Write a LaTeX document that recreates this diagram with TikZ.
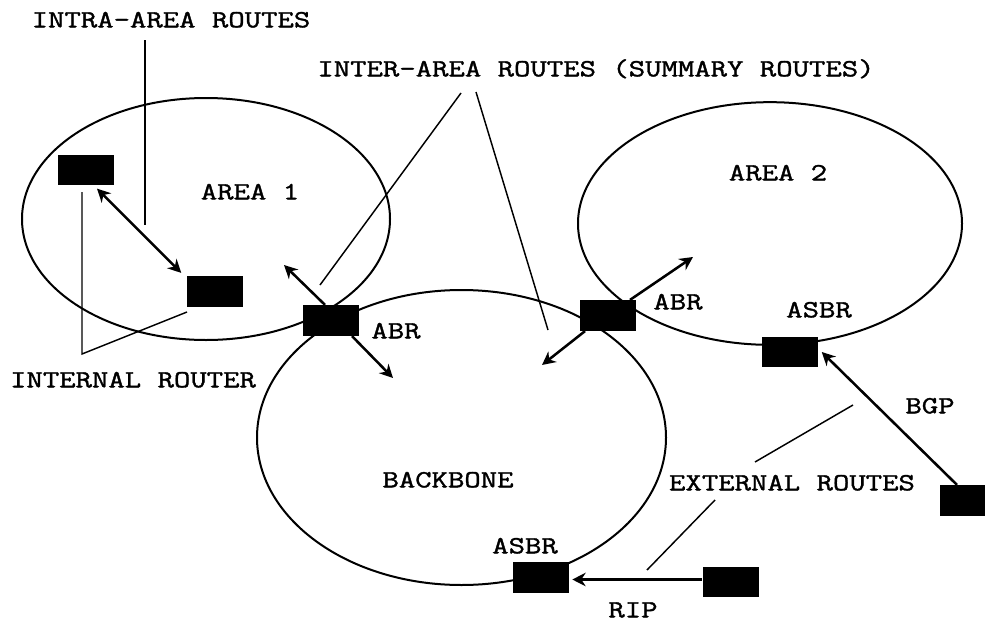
\documentclass[tikz,border=0pt]{standalone}
\usepackage{fontspec}
\setmainfont{Latin Modern Mono}[FakeStretch=1.29,FakeBold=1.5]
\usetikzlibrary{shapes.geometric,arrows.meta,calc}
\tikzset{
  area/.style={draw,ellipse,line width=1.5pt,inner sep=0pt},
  router/.style={fill=black,draw=none,rectangle,inner sep=0pt,minimum width=42pt,minimum height=23pt},
  lbl/.style={inner sep=0pt,text height=11pt,text depth=0pt,font=\fontsize{18.5}{22}\selectfont},
  link/.style={line width=1.9pt,-{Stealth[length=10pt,width=10pt]}},
  dlink/.style={line width=1.9pt,{Stealth[length=10pt,width=10pt]}-{Stealth[length=10pt,width=10pt]}},
  pointer/.style={line width=1.1pt}
}
\begin{document}
\begin{tikzpicture}[x=0.75pt,y=-0.75pt]
\useasboundingbox (0,0) rectangle (985,621);
\fill[white] (0,0) rectangle (985,621);

% areas
\node[area,minimum width=276pt,minimum height=181.5pt] (area1) at (206,219) {};
\node[area,minimum width=288pt,minimum height=182pt] (area2) at (770,223.5) {};
\node[area,minimum width=306.75pt,minimum height=221.25pt] (backbone) at (461.5,437.5) {};

% routers
\node[router] (r1) at (86,170) {};
\node[router] (r2) at (214.5,291.5) {};
\node[router] (abrA) at (331,320.5) {};
\node[router] (abrB) at (608,315.5) {};
\node[router] (asbrA) at (789.5,352) {};
\node[router] (ext1) at (968,500.5) {};
\node[router] (asbrB) at (541,577.5) {};
\node[router] (ext2) at (730.5,582) {};

% labels
\node[lbl] (tIntra) at (171,20) {INTRA-AREA ROUTES};
\node[lbl] (tInter) at (596,69) {INTER-AREA ROUTES (SUMMARY ROUTES)};
\node[lbl] (tArea1) at (250,192) {AREA 1};
\node[lbl] (tArea2) at (778,173) {AREA 2};
\node[lbl] (tAbrA) at (396,331) {ABR};
\node[lbl] (tAbrB) at (678,302) {ABR};
\node[lbl] (tAsbrA) at (819,310) {ASBR};
\node[lbl] (tBgp) at (930,406) {BGP};
\node[lbl] (tExt) at (792,483) {EXTERNAL ROUTES};
\node[lbl] (tBackbone) at (448,480) {BACKBONE};
\node[lbl] (tAsbrB) at (525,546) {ASBR};
\node[lbl] (tRip) at (633,610) {RIP};
\node[lbl] (tInternal) at (133,380) {INTERNAL ROUTER};

% free ends of arrows and pointer lines
\coordinate (abrAup) at (284,265);
\coordinate (abrAdown) at (393,378);
\coordinate (abrBup) at (693,257);
\coordinate (abrBdown) at (542,365);
\coordinate (intraEnd) at (145,225);
\coordinate (intraTop) at (145,40);
\coordinate (intVertex) at (82,354);
\coordinate (intTop) at (82,192);
\coordinate (intEnd) at (187,312);
\coordinate (interA) at (461,93);
\coordinate (interAend) at (320,285);
\coordinate (interB) at (476,92);
\coordinate (interBend) at (548,330);
\coordinate (extA) at (853,405);
\coordinate (extAend) at (755,462);
\coordinate (extB) at (715,500);
\coordinate (extBend) at (647,570);

% routing arrows
\draw[dlink] ($(r1.south)+(11,3)$) -- ($(r2.north west)+(-5,-3)$);
\draw[link] ($(abrA.north)+(-6,0)$) -- (abrAup);
\draw[link] ($(abrA.south)+(21,0)$) -- (abrAdown);
\draw[link] ($(abrB.north)+(22,0)$) -- (abrBup);
\draw[link] ($(abrB.south)+(-23,0)$) -- (abrBdown);
\draw[link] ($(ext1.north)+(-11,0)$) -- ($(asbrA.east)+(4,0)$);
\draw[link] ($(ext2.west)+(0,-2.5)$) -- ($(asbrB.east)+(3,2)$);

% pointer lines
\draw[pointer] (intraTop) -- (intraEnd);
\draw[pointer] (intTop) -- (intVertex) -- (intEnd);
\draw[pointer] (interA) -- (interAend);
\draw[pointer] (interB) -- (interBend);
\draw[pointer] (extA) -- (extAend);
\draw[pointer] (extB) -- (extBend);
\end{tikzpicture}
\end{document}
